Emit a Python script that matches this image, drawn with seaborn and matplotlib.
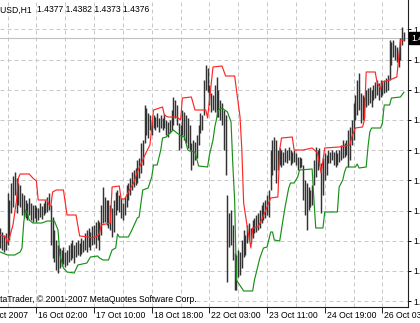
import matplotlib
matplotlib.use("Agg")
import numpy as np
import matplotlib.pyplot as plt
import matplotlib.transforms as mtransforms
import seaborn as sns

# ---------------- data ----------------
symbol = "EURUSD,H1"
last_ohlc = "1.4377 1.4382 1.4373 1.4376"
last_price = 1.4376
copyright_text = "MetaTrader, \u00a9 2001-2007 MetaQuotes Software Corp."

bar_high = [
    1.4186, 1.4182, 1.4179, 1.4181, 1.4221, 1.4214, 1.4231, 1.4238, 1.4242, 1.4236,
    1.4231, 1.4229, 1.4221, 1.4219, 1.4214, 1.4211, 1.4216, 1.4211, 1.4209, 1.4209,
    1.4207, 1.4206, 1.4211, 1.4208, 1.4211, 1.4214, 1.4217, 1.4221, 1.4209, 1.4197,
    1.4184, 1.4174, 1.4169, 1.4166, 1.4164, 1.4167, 1.4162, 1.4164, 1.4169, 1.4171,
    1.4174, 1.4169, 1.4172, 1.4174, 1.4171, 1.4176, 1.4174, 1.4181, 1.4184, 1.4186,
    1.4182, 1.4188, 1.4189, 1.4192, 1.4194, 1.4192, 1.4209, 1.4227, 1.4217, 1.4214,
    1.4214, 1.4209, 1.4206, 1.4214, 1.4222, 1.4224, 1.4219, 1.4216, 1.4211, 1.4217,
    1.4229, 1.4231, 1.4236, 1.4242, 1.4244, 1.4246, 1.4254, 1.4256, 1.4271, 1.4274,
    1.4309, 1.4306, 1.4301, 1.4299, 1.4294, 1.4299, 1.4297, 1.4301, 1.4296, 1.4299,
    1.4296, 1.4300, 1.4294, 1.4292, 1.4294, 1.4304, 1.4317, 1.4314, 1.4309, 1.4291,
    1.4289, 1.4304, 1.4302, 1.4299, 1.4296, 1.4289, 1.4271, 1.4274, 1.4272, 1.4279,
    1.4289, 1.4301, 1.4299, 1.4334, 1.4349, 1.4346, 1.4329, 1.4321, 1.4319, 1.4329,
    1.4337, 1.4324, 1.4314, 1.4311, 1.4304, 1.4299, 1.4219, 1.4201, 1.4204, 1.4189,
    1.4161, 1.4159, 1.4164, 1.4162, 1.4174, 1.4184, 1.4179, 1.4189, 1.4191, 1.4186,
    1.4194, 1.4196, 1.4199, 1.4201, 1.4204, 1.4209, 1.4212, 1.4214, 1.4219, 1.4224,
    1.4264, 1.4274, 1.4277, 1.4274, 1.4264, 1.4266, 1.4264, 1.4262, 1.4266, 1.4264,
    1.4267, 1.4264, 1.4262, 1.4264, 1.4261, 1.4257, 1.4257, 1.4256, 1.4249, 1.4234,
    1.4231, 1.4227, 1.4224, 1.4229, 1.4254, 1.4267, 1.4264, 1.4266, 1.4251, 1.4256,
    1.4261, 1.4259, 1.4264, 1.4262, 1.4264, 1.4262, 1.4264, 1.4261, 1.4264, 1.4269,
    1.4274, 1.4271, 1.4274, 1.4284, 1.4287, 1.4294, 1.4311, 1.4319, 1.4334, 1.4341,
    1.4321, 1.4319, 1.4317, 1.4324, 1.4326, 1.4327, 1.4324, 1.4329, 1.4332, 1.4334,
    1.4331, 1.4334, 1.4332, 1.4334, 1.4336, 1.4339, 1.4374, 1.4372, 1.4374, 1.4369,
    1.4367, 1.4364, 1.4376, 1.4387, 1.4382,
]
bar_low = [
    1.4166, 1.4164, 1.4162, 1.4164, 1.4169, 1.4174, 1.4201, 1.4207, 1.4219, 1.4201,
    1.4209, 1.4207, 1.4199, 1.4197, 1.4196, 1.4194, 1.4199, 1.4194, 1.4192, 1.4196,
    1.4192, 1.4194, 1.4197, 1.4195, 1.4199, 1.4201, 1.4202, 1.4204, 1.4169, 1.4156,
    1.4152, 1.4144, 1.4141, 1.4146, 1.4148, 1.4150, 1.4147, 1.4149, 1.4152, 1.4154,
    1.4156, 1.4151, 1.4157, 1.4159, 1.4158, 1.4160, 1.4162, 1.4164, 1.4162, 1.4167,
    1.4164, 1.4169, 1.4170, 1.4166, 1.4174, 1.4164, 1.4179, 1.4191, 1.4192, 1.4189,
    1.4186, 1.4184, 1.4177, 1.4182, 1.4199, 1.4204, 1.4202, 1.4196, 1.4194, 1.4199,
    1.4207, 1.4214, 1.4219, 1.4224, 1.4227, 1.4229, 1.4231, 1.4236, 1.4241, 1.4249,
    1.4271, 1.4279, 1.4276, 1.4284, 1.4279, 1.4286, 1.4284, 1.4287, 1.4282, 1.4286,
    1.4284, 1.4286, 1.4279, 1.4277, 1.4281, 1.4284, 1.4289, 1.4296, 1.4289, 1.4264,
    1.4266, 1.4279, 1.4274, 1.4271, 1.4266, 1.4264, 1.4244, 1.4249, 1.4254, 1.4256,
    1.4269, 1.4281, 1.4284, 1.4299, 1.4324, 1.4322, 1.4309, 1.4302, 1.4304, 1.4302,
    1.4297, 1.4297, 1.4294, 1.4289, 1.4264, 1.4239, 1.4132, 1.4167, 1.4169, 1.4154,
    1.4124, 1.4124, 1.4137, 1.4139, 1.4146, 1.4157, 1.4159, 1.4171, 1.4174, 1.4171,
    1.4176, 1.4181, 1.4182, 1.4184, 1.4186, 1.4191, 1.4194, 1.4196, 1.4199, 1.4197,
    1.4224, 1.4239, 1.4244, 1.4231, 1.4244, 1.4249, 1.4247, 1.4249, 1.4252, 1.4251,
    1.4254, 1.4249, 1.4251, 1.4252, 1.4249, 1.4244, 1.4246, 1.4247, 1.4214, 1.4199,
    1.4184, 1.4204, 1.4207, 1.4209, 1.4229, 1.4237, 1.4244, 1.4249, 1.4201, 1.4219,
    1.4234, 1.4239, 1.4251, 1.4251, 1.4254, 1.4249, 1.4247, 1.4249, 1.4252, 1.4254,
    1.4256, 1.4257, 1.4259, 1.4247, 1.4254, 1.4269, 1.4274, 1.4294, 1.4299, 1.4304,
    1.4291, 1.4294, 1.4296, 1.4307, 1.4309, 1.4311, 1.4307, 1.4314, 1.4316, 1.4319,
    1.4314, 1.4317, 1.4319, 1.4321, 1.4322, 1.4324, 1.4334, 1.4349, 1.4357, 1.4354,
    1.4352, 1.4347, 1.4354, 1.4369, 1.4373,
]

# upper (red) channel vertices: bar index / price
upper_idx = [0, 3, 4, 5, 7, 9, 10, 11, 16, 18, 20, 21, 26, 27, 28, 29, 31, 35, 37, 42,
             44, 49, 51, 54, 55, 56, 61, 62, 66, 67, 69, 71, 74, 76, 79, 81, 83, 85, 90, 91,
             93, 98, 100, 101, 106, 108, 114, 115, 118, 123, 125, 130, 133, 134, 135, 137, 138, 139, 140, 143,
             145, 148, 150, 154, 155, 156, 162, 163, 168, 173, 176, 177, 178, 180, 188, 194, 195, 197, 201, 202,
             203, 208, 209, 211, 212, 216, 220, 221, 222, 224]
upper_val = [1.4179, 1.4177, 1.4171, 1.4176, 1.4189, 1.4214, 1.4236, 1.4240, 1.4240, 1.4236,
             1.4233, 1.4214, 1.4214, 1.4209, 1.4208, 1.4222, 1.4224, 1.4224, 1.4199, 1.4199,
             1.4178, 1.4177, 1.4176, 1.4178, 1.4181, 1.4189, 1.4191, 1.4227, 1.4228, 1.4215,
             1.4215, 1.4222, 1.4231, 1.4242, 1.4254, 1.4262, 1.4269, 1.4304, 1.4307, 1.4299,
             1.4297, 1.4297, 1.4294, 1.4316, 1.4317, 1.4304, 1.4304, 1.4296, 1.4347, 1.4348,
             1.4338, 1.4338, 1.4297, 1.4264, 1.4211, 1.4187, 1.4177, 1.4166, 1.4186, 1.4187,
             1.4194, 1.4207, 1.4216, 1.4217, 1.4264, 1.4276, 1.4277, 1.4264, 1.4264, 1.4266,
             1.4261, 1.4251, 1.4241, 1.4266, 1.4267, 1.4269, 1.4277, 1.4286, 1.4287, 1.4294,
             1.4342, 1.4342, 1.4332, 1.4325, 1.4332, 1.4334, 1.4337, 1.4356, 1.4374, 1.4374]

# lower (green) channel vertices: bar index / price
lower_idx = [0, 4, 8, 11, 12, 13, 14, 15, 16, 18, 23, 26, 30, 32, 33, 35, 37, 41, 43, 48,
             50, 54, 55, 57, 60, 62, 64, 65, 66, 71, 73, 76, 77, 79, 82, 84, 85, 87, 89, 90,
             92, 94, 96, 98, 101, 102, 104, 105, 108, 110, 115, 116, 118, 119, 121, 123, 126, 128, 129, 130,
             131, 135, 140, 141, 144, 146, 148, 150, 151, 152, 155, 157, 158, 160, 161, 163, 165, 166, 173, 174,
             175, 179, 180, 187, 188, 190, 191, 192, 197, 198, 199, 203, 204, 205, 206, 211, 212, 213, 216, 217,
             222, 224]
lower_val = [1.4162, 1.4159, 1.4159, 1.4162, 1.4166, 1.4192, 1.4204, 1.4201, 1.4194, 1.4191,
             1.4191, 1.4193, 1.4193, 1.4184, 1.4159, 1.4146, 1.4142, 1.4141, 1.4149, 1.4151,
             1.4157, 1.4158, 1.4156, 1.4154, 1.4154, 1.4164, 1.4166, 1.4180, 1.4177, 1.4177,
             1.4184, 1.4196, 1.4197, 1.4224, 1.4226, 1.4237, 1.4249, 1.4249, 1.4264, 1.4276,
             1.4277, 1.4281, 1.4284, 1.4281, 1.4277, 1.4278, 1.4264, 1.4263, 1.4262, 1.4248,
             1.4247, 1.4259, 1.4274, 1.4287, 1.4304, 1.4306, 1.4302, 1.4292, 1.4249, 1.4214,
             1.4134, 1.4123, 1.4123, 1.4134, 1.4156, 1.4166, 1.4167, 1.4182, 1.4182, 1.4174,
             1.4173, 1.4196, 1.4207, 1.4226, 1.4231, 1.4231, 1.4237, 1.4244, 1.4245, 1.4214,
             1.4186, 1.4186, 1.4202, 1.4202, 1.4227, 1.4234, 1.4242, 1.4247, 1.4247, 1.4250,
             1.4246, 1.4247, 1.4267, 1.4282, 1.4286, 1.4286, 1.4291, 1.4309, 1.4309, 1.4316,
             1.4317, 1.4322]

time_label_idx = [-12, 20, 52, 84, 116, 148, 180, 212]
time_labels = ["15 Oct 2007", "16 Oct 02:00", "17 Oct 10:00", "18 Oct 18:00",
               "22 Oct 03:00", "23 Oct 11:00", "24 Oct 19:00", "26 Oct 03:00"]
price_ticks = [1.43847, 1.43545, 1.43243, 1.42941, 1.42639,
               1.42337, 1.42035, 1.41733, 1.41431, 1.41129]
price_tick_labels = ["1.4385", "1.4355", "1.4324", "1.4294", "1.4264",
                     "1.4234", "1.4204", "1.4173", "1.4143", "1.4113"]

# ---------------- figure ----------------
sns.set_style("white")
plt.rcParams["font.family"] = ["Liberation Sans", "DejaVu Sans"]
FS = 6.2
W, H, DPI = 420, 323, 100
fig = plt.figure(figsize=(W / DPI, H / DPI), dpi=DPI)
fig.patch.set_facecolor("white")
ax = fig.add_axes([0, 16 / H, 408 / W, 307 / H])
ax.set_facecolor("white")

n_bars = len(bar_high)
bar_idx = np.arange(n_bars)
ax.set_xlim(-0.2, 226.2)
ax.set_ylim(1.4107, 1.4414)

# grid (dashed light grey)
grid_kw = dict(color="#c8c8c8", lw=0.72, ls=(0, (4, 3)), zorder=0)
for gx in range(4, n_bars, 16):
    ax.axvline(gx, **grid_kw)
for gy in price_ticks:
    ax.axhline(gy, **grid_kw)

# current price line
ax.axhline(last_price, color="#c0c0c0", lw=0.8, zorder=0.5)

# bars
ax.vlines(bar_idx, bar_low, bar_high, colors="#333333", linewidth=1.05, zorder=2)

# channel lines
sns.lineplot(x=upper_idx, y=upper_val, ax=ax, color="#ff2626", lw=0.85,
             estimator=None, sort=False, zorder=3)
sns.lineplot(x=lower_idx, y=lower_val, ax=ax, color="#189018", lw=0.85,
             estimator=None, sort=False, zorder=3)

# spines
for s in ["top", "left"]:
    ax.spines[s].set_visible(False)
for s in ["right", "bottom"]:
    ax.spines[s].set_color("#202020")
    ax.spines[s].set_linewidth(0.8)

# right price axis
ax.yaxis.tick_right()
ax.set_yticks(price_ticks)
ax.set_yticklabels(price_tick_labels)
ax.tick_params(axis="y", right=True, left=False, labelright=True, labelleft=False,
               length=2.5, width=0.7, pad=1.2, labelsize=FS, colors="black",
               direction="out")

# bottom time axis
vis = [(i, t) for i, t in zip(time_label_idx, time_labels)]
ax.set_xticks([i for i, _ in vis if i >= 0])
ax.set_xticklabels([])
ax.tick_params(axis="x", bottom=True, length=4, width=0.7, direction="out", colors="#202020")
ax.set_xlabel("")
ax.set_ylabel("")
trans = mtransforms.blended_transform_factory(ax.transData, ax.transAxes)
offs = mtransforms.ScaledTranslation(2 / DPI, 0, fig.dpi_scale_trans)
for i, t in vis:
    ax.text(i, -8.3 / 307, t, transform=trans + offs, ha="left", va="center",
            fontsize=FS, color="black", clip_on=False)

# current price box
tb = mtransforms.blended_transform_factory(ax.transAxes, ax.transData)
ax.text(1 + 3.0 / 408, last_price, f"{last_price:.4f}", transform=tb, ha="left",
        va="center", fontsize=FS, color="white", clip_on=False,
        bbox=dict(boxstyle="square,pad=0.22", fc="black", ec="black"), zorder=5)

# title and copyright
fig.text(32 / W, 1 - 10 / H, symbol, ha="right", va="center", fontsize=FS, color="black")
fig.text(37 / W, 1 - 10 / H, last_ohlc, ha="left", va="center", fontsize=FS, color="black")
fig.text(197 / W, 1 - 300 / H, copyright_text, ha="right", va="center", fontsize=FS,
         color="black")

fig.savefig("out.png", dpi=DPI, facecolor="white")
